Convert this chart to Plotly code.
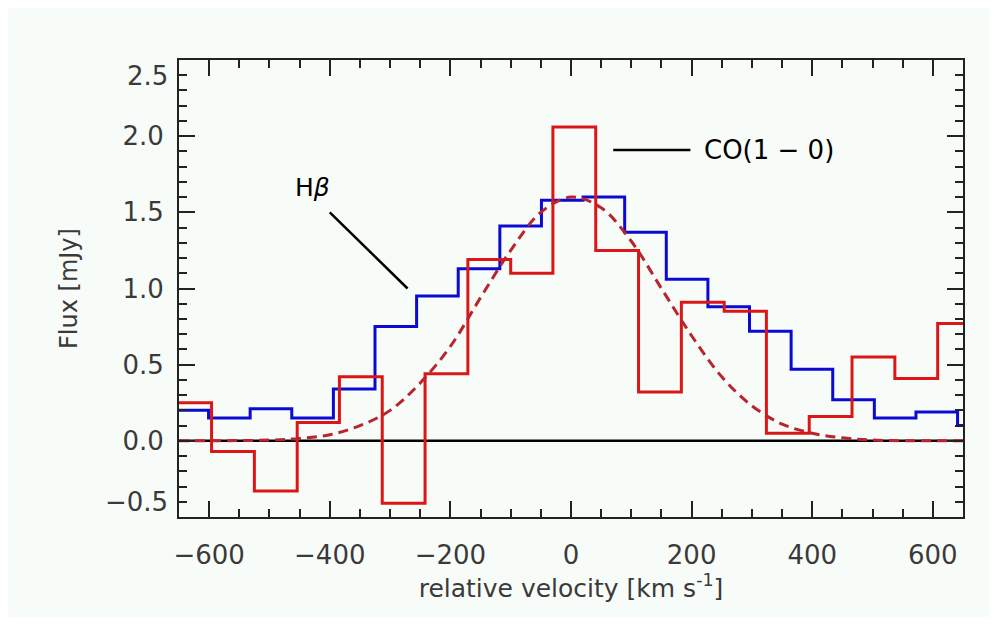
import plotly.graph_objects as go

# CO(1-0) spectrum (red histogram): bin edges [km/s] and flux [mJy]
co_edges = [-667, -596, -525, -454, -384, -313, -242, -171, -100, -30,
            41, 112, 183, 254, 324, 395, 466, 537, 608, 678]
co_flux = [0.25, -0.07, -0.33, 0.12, 0.42, -0.41, 0.44, 1.19, 1.10, 2.06,
           1.25, 0.32, 0.91, 0.85, 0.05, 0.16, 0.55, 0.41, 0.77]

# H-beta spectrum (blue histogram)
hb_edges = [-670, -601, -532, -463, -394, -325, -256, -187, -118, -49,
            20, 89, 158, 227, 296, 365, 434, 503, 572, 641, 710]
hb_flux = [0.20, 0.15, 0.21, 0.15, 0.34, 0.75, 0.95, 1.13, 1.41, 1.58,
           1.60, 1.37, 1.06, 0.88, 0.72, 0.47, 0.27, 0.15, 0.19, 0.10]

# fitted line profile (dashed)
fit_vel = [-650, -500, -450, -400, -350, -300, -250, -200, -150, -100, -50,
           0, 50, 100, 150, 200, 250, 300, 350, 400, 450, 500, 650]
fit_flux = [0.0, 0.005, 0.016, 0.04, 0.10, 0.20, 0.38, 0.62, 0.94, 1.25, 1.50,
            1.60, 1.53, 1.31, 1.00, 0.69, 0.42, 0.23, 0.11, 0.05, 0.02, 0.005, 0.0]

y_ticks = [-0.5, 0, 0.5, 1.0, 1.5, 2.0, 2.5]
y_labels = ["−0.5", "0.0", "0.5", "1.0", "1.5", "2.0", "2.5"]
x_ticks = [-600, -400, -200, 0, 200, 400, 600]
x_labels = ["−600", "−400", "−200", "0", "200", "400", "600"]


def steps(edges, vals):
    # histogram outline for line_shape='hv'
    return list(edges), list(vals) + [vals[-1]]


fig = go.Figure()

fig.add_trace(go.Scatter(x=[-650, 650], y=[0, 0], mode="lines",
                         line=dict(color="black", width=2.5), hoverinfo="skip"))

x, y = steps(hb_edges, hb_flux)
fig.add_trace(go.Scatter(x=x, y=y, mode="lines", line_shape="hv",
                         line=dict(color="#0a0ad2", width=3), name="Hβ"))

x, y = steps(co_edges, co_flux)
fig.add_trace(go.Scatter(x=x, y=y, mode="lines", line_shape="hv",
                         line=dict(color="#dc1616", width=3), name="CO(1-0)"))

fig.add_trace(go.Scatter(x=fit_vel, y=fit_flux, mode="lines", line_shape="spline",
                         line=dict(color="#b8252f", width=3, dash="10px,6px"),
                         name="fit"))

# label pointers
fig.add_shape(type="line", x0=-400, y0=1.5, x1=-271, y1=1.0,
              line=dict(color="black", width=2.5))
fig.add_shape(type="line", x0=70, y0=1.91, x1=198, y1=1.91,
              line=dict(color="black", width=2.5))
fig.add_annotation(x=-429, y=1.66, text="H<i>β</i>", showarrow=False,
                   font=dict(size=25, color="black", family="DejaVu Sans"))
fig.add_annotation(x=218, y=1.91, text="CO(1 − 0)", showarrow=False, xanchor="left",
                   font=dict(size=26, color="black", family="DejaVu Sans"))

tick_font = dict(size=26, color="#3a3a3a", family="DejaVu Sans")

# end labels of the y axis are kept inside the frame, as in the original
fig.add_annotation(xref="paper", x=0, xanchor="right", xshift=-9,
                   yref="paper", y=1, yanchor="top", yshift=1,
                   text=y_labels[-1], showarrow=False, font=tick_font)
fig.add_annotation(xref="paper", x=0, xanchor="right", xshift=-9,
                   yref="paper", y=0, yanchor="bottom", yshift=-2,
                   text=y_labels[0], showarrow=False, font=tick_font)

axis_common = dict(
    showgrid=False, zeroline=False, showline=True, linecolor="#222", linewidth=2,
    mirror="allticks", ticks="inside", ticklen=16, tickwidth=1.5, tickcolor="#222",
    tickfont=tick_font,
)

fig.update_xaxes(range=[-650, 650], tickvals=x_ticks, ticktext=x_labels,
                 minor=dict(ticks="inside", dtick=50, ticklen=8, tickcolor="#222", tickwidth=1.5),
                 title=dict(text="relative velocity [km s<sup>-1</sup>]", standoff=10,
                            font=dict(size=25, color="#3a3a3a", family="DejaVu Sans")),
                 ticklabelstandoff=14,
                 **axis_common)
fig.update_yaxes(range=[-0.5, 2.5], tickvals=y_ticks,
                 ticktext=[""] + y_labels[1:-1] + [""],
                 minor=dict(ticks="inside", dtick=0.1, ticklen=8, tickcolor="#222", tickwidth=1.5),
                 title=dict(text="Flux [mJy]", standoff=38,
                            font=dict(size=24, color="#3a3a3a", family="DejaVu Sans")),
                 ticklabelstandoff=8,
                 **axis_common)

fig.update_layout(
    width=982, height=609,
    margin=dict(l=171, r=27, t=52, b=100),
    paper_bgcolor="#f8fcf8", plot_bgcolor="#f8fcf8",
    showlegend=False,
)

fig.write_html("out.html")
